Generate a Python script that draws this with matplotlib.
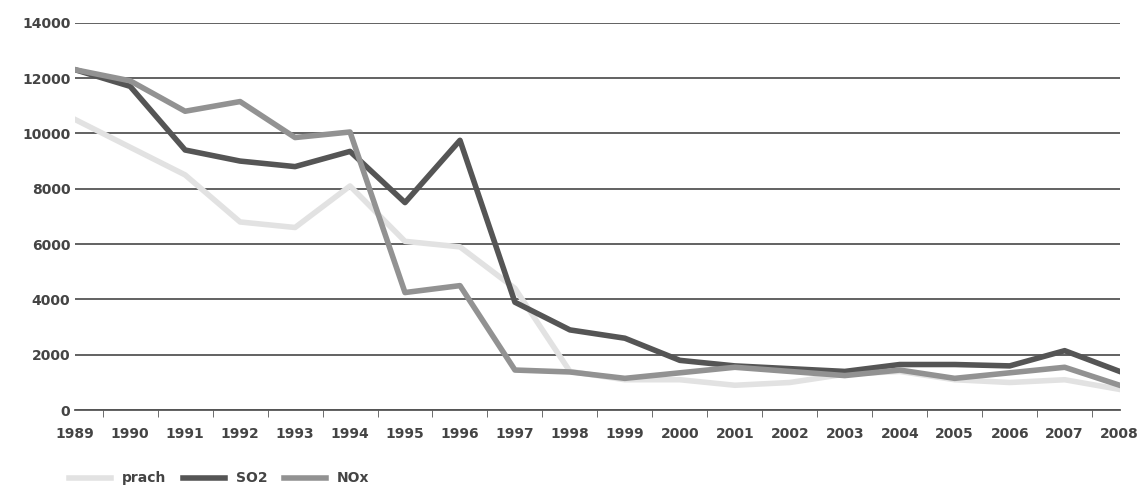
import matplotlib
matplotlib.use("Agg")
import matplotlib.pyplot as plt
import numpy as np

years = list(range(1989, 2009))
prach = [10500, 9500, 8500, 6800, 6600, 8100, 6100, 5900, 4400, 1400, 1100, 1100, 900, 1000, 1300, 1400, 1100, 1000, 1100, 750]
so2 = [12300, 11700, 9400, 9000, 8800, 9350, 7500, 9750, 3900, 2900, 2600, 1800, 1600, 1500, 1400, 1650, 1650, 1600, 2150, 1400]
nox = [12300, 11900, 10800, 11150, 9850, 10050, 4250, 4500, 1450, 1380, 1150, 1350, 1550, 1400, 1250, 1450, 1150, 1350, 1550, 900]

fig = plt.figure(figsize=(11.39, 4.93), dpi=100)
ax = fig.add_axes([0.066, 0.168, 0.917, 0.786])
x = np.arange(len(years))
ax.plot(x, prach, color="#e2e2e2", lw=4, label="prach")
ax.plot(x, so2, color="#555555", lw=4, label="SO2")
ax.plot(x, nox, color="#929292", lw=4, label="NOx")
ax.set_xlim(0, len(years) - 1)
ax.set_ylim(0, 14000)
ax.set_yticks(range(0, 14001, 2000))
ax.yaxis.grid(True, color="#555555", lw=1.3)
ax.set_axisbelow(True)
ax.set_xticks(x)
ax.set_xticklabels([str(y) for y in years], fontweight="bold", color="#444444", fontsize=10)
ax.set_xticks(x[:-1] + 0.5, minor=True)
ax.tick_params(axis="x", which="major", length=0, pad=12)
ax.tick_params(axis="x", which="minor", length=5, color="#555555")
ax.tick_params(axis="y", length=0, labelsize=10, labelcolor="#444444")
for t in ax.get_yticklabels():
    t.set_fontweight("bold")
for s in ["top", "right", "left"]:
    ax.spines[s].set_visible(False)
ax.spines["bottom"].set_color("#555555")
ax.spines["bottom"].set_linewidth(1.3)
leg = fig.legend(loc="lower left", bbox_to_anchor=(0.05, -0.01), ncol=3, frameon=False,
                 prop={"weight": "bold", "size": 10}, handlelength=3, columnspacing=1.2)
for t in leg.get_texts():
    t.set_color("#444444")
fig.savefig("out.png", dpi=100)
